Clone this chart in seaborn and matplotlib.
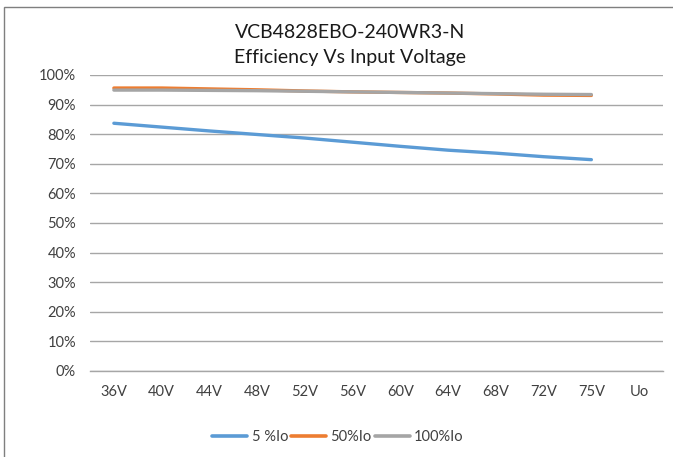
import matplotlib
matplotlib.use("Agg")
import matplotlib.pyplot as plt
import matplotlib.patches as mpatches
from matplotlib.ticker import FuncFormatter, MultipleLocator
import numpy as np
import pandas as pd
import seaborn as sns

# Input voltage categories (last one is an empty slot on the axis)
categories = ["36V", "40V", "44V", "48V", "52V", "56V", "60V", "64V", "68V", "72V", "75V", "Uo"]
measured = categories[:11]

# Efficiency in percent for each load condition
eff_5 = [83.7, 82.4, 81.1, 79.9, 78.7, 77.3, 75.9, 74.6, 73.6, 72.4, 71.4]
eff_50 = [95.6, 95.6, 95.3, 95.0, 94.6, 94.3, 94.1, 93.9, 93.6, 93.2, 93.1]
eff_100 = [94.9, 94.9, 94.8, 94.7, 94.5, 94.3, 94.1, 93.9, 93.7, 93.5, 93.4]

series_names = ["5 %Io", "50%Io", "100%Io"]
colors = ["#5B9BD5", "#ED7D31", "#A5A5A5"]

frames = []
for name, vals in zip(series_names, [eff_5, eff_50, eff_100]):
    frames.append(pd.DataFrame({
        "pos": [categories.index(c) for c in measured],
        "eff": vals,
        "load": name,
    }))
df = pd.concat(frames, ignore_index=True)

sns.set_theme(style="white")
plt.rcParams["font.family"] = ["Lato", "DejaVu Sans"]

fig = plt.figure(figsize=(6.73, 4.57), dpi=100)
ax = fig.add_axes([90 / 673, 1 - 371 / 457, (663 - 90) / 673, (371 - 75) / 457])

sns.lineplot(data=df, x="pos", y="eff", hue="load", hue_order=series_names,
             palette=colors, linewidth=2.4, sort=False, ax=ax, legend=False)

ax.set_xlim(-0.5, len(categories) - 0.5)
ax.set_ylim(0, 100)
ax.yaxis.set_major_locator(MultipleLocator(10))
ax.yaxis.set_major_formatter(FuncFormatter(lambda v, _: f"{v:.0f}%"))
ax.set_xticks(range(len(categories)))
ax.set_xticklabels(categories)
ax.set_xlabel("")
ax.set_ylabel("")
ax.grid(axis="y", color="#A6A6A6", linewidth=1.0)
ax.set_axisbelow(True)
for side in ["left", "right", "top"]:
    ax.spines[side].set_visible(False)
ax.spines["bottom"].set_color("#A6A6A6")
ax.spines["bottom"].set_linewidth(1.0)
ax.tick_params(axis="both", length=0, labelsize=10.5, colors="#404040")
ax.tick_params(axis="y", pad=10)
ax.tick_params(axis="x", pad=10)

fig.text(350 / 673, 1 - 33 / 457, "VCB4828EBO-240WR3-N", ha="center", va="center",
         fontsize=14, color="#1A1A1A")
fig.text(350 / 673, 1 - 57 / 457, "Efficiency Vs Input Voltage", ha="center", va="center",
         fontsize=14, color="#1A1A1A")

handles = [plt.Line2D([], [], color=c, linewidth=2.6) for c in colors]
fig.legend(handles, series_names, loc="center", bbox_to_anchor=(338 / 673, 1 - 437 / 457),
           ncol=3, frameon=False, fontsize=10.5, handlelength=2.4, handletextpad=0.3,
           columnspacing=0.2, labelcolor="#404040")

# Outer chart border
fig.patches.append(mpatches.Rectangle((4 / 673, -0.1), 1.2, 1 - 7 / 457 + 0.1,
                                      transform=fig.transFigure, fill=False,
                                      edgecolor="#7F7F7F", linewidth=1.0))

fig.savefig("out.png", dpi=100)
